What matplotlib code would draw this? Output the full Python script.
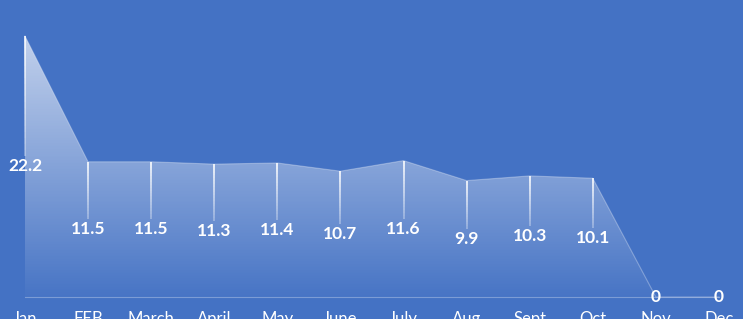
import numpy as np
import matplotlib.pyplot as plt
from matplotlib.patches import Polygon

plt.rcParams['font.family'] = ['Lato', 'DejaVu Sans']

months = ['Jan', 'FEB', 'March', 'April', 'May', 'June', 'July', 'Aug', 'Sept', 'Oct', 'Nov', 'Dec']
values = [22.2, 11.5, 11.5, 11.3, 11.4, 10.7, 11.6, 9.9, 10.3, 10.1, 0, 0]

bg = '#4472C4'
fig = plt.figure(figsize=(7.43, 3.19), dpi=100, facecolor=bg)
ax = fig.add_axes([0, 0, 1, 1])
ax.set_facecolor(bg)
ax.set_xlim(-0.396, 11.381)
ax.set_ylim(-1.871, 25.26)
ax.axis('off')

x = np.arange(len(months))
y = np.array(values)

# gradient area fill clipped to the data polygon
verts = [(x[0], 0)] + list(zip(x, y)) + [(x[-1], 0)]
poly = Polygon(verts, closed=True, facecolor='none', edgecolor='none')
ax.add_patch(poly)
grad = np.zeros((256, 2, 4))
grad[..., :3] = 1.0
alpha = np.linspace(0.02, 0.68, 256)
grad[..., 3] = alpha[:, None]
im = ax.imshow(grad, extent=[x[0], x[-1], 0, max(values)], origin='lower',
               aspect='auto', interpolation='bilinear', zorder=1)
im.set_clip_path(poly)
ax.plot(x, y, color='white', lw=0.8, alpha=0.3, zorder=2)

# baseline
ax.plot([x[0], x[-1]], [0, 0], color='white', lw=0.8, alpha=0.3, zorder=2)

# fading drop lines and labels at mid height
for xi, v in zip(x, values):
    if v > 0:
        top, bot = v, v / 2 + 0.85
        n = 20
        ys = np.linspace(top, bot, n + 1)
        for k in range(n):
            a = 0.9 - 0.6 * k / n
            ax.plot([xi, xi], [ys[k], ys[k + 1]], color='white', lw=1.3,
                    alpha=a, solid_capstyle='butt', zorder=3)
    ax.text(xi, v / 2, f'{v:g}', color='white', fontsize=12.5, fontweight='bold',
            ha='center', va='center', zorder=4)

for xi, m in zip(x, months):
    ax.text(xi, -1.2, m, color='white', fontsize=12, ha='center', va='top')

fig.savefig('out.png', dpi=100, facecolor=bg)
